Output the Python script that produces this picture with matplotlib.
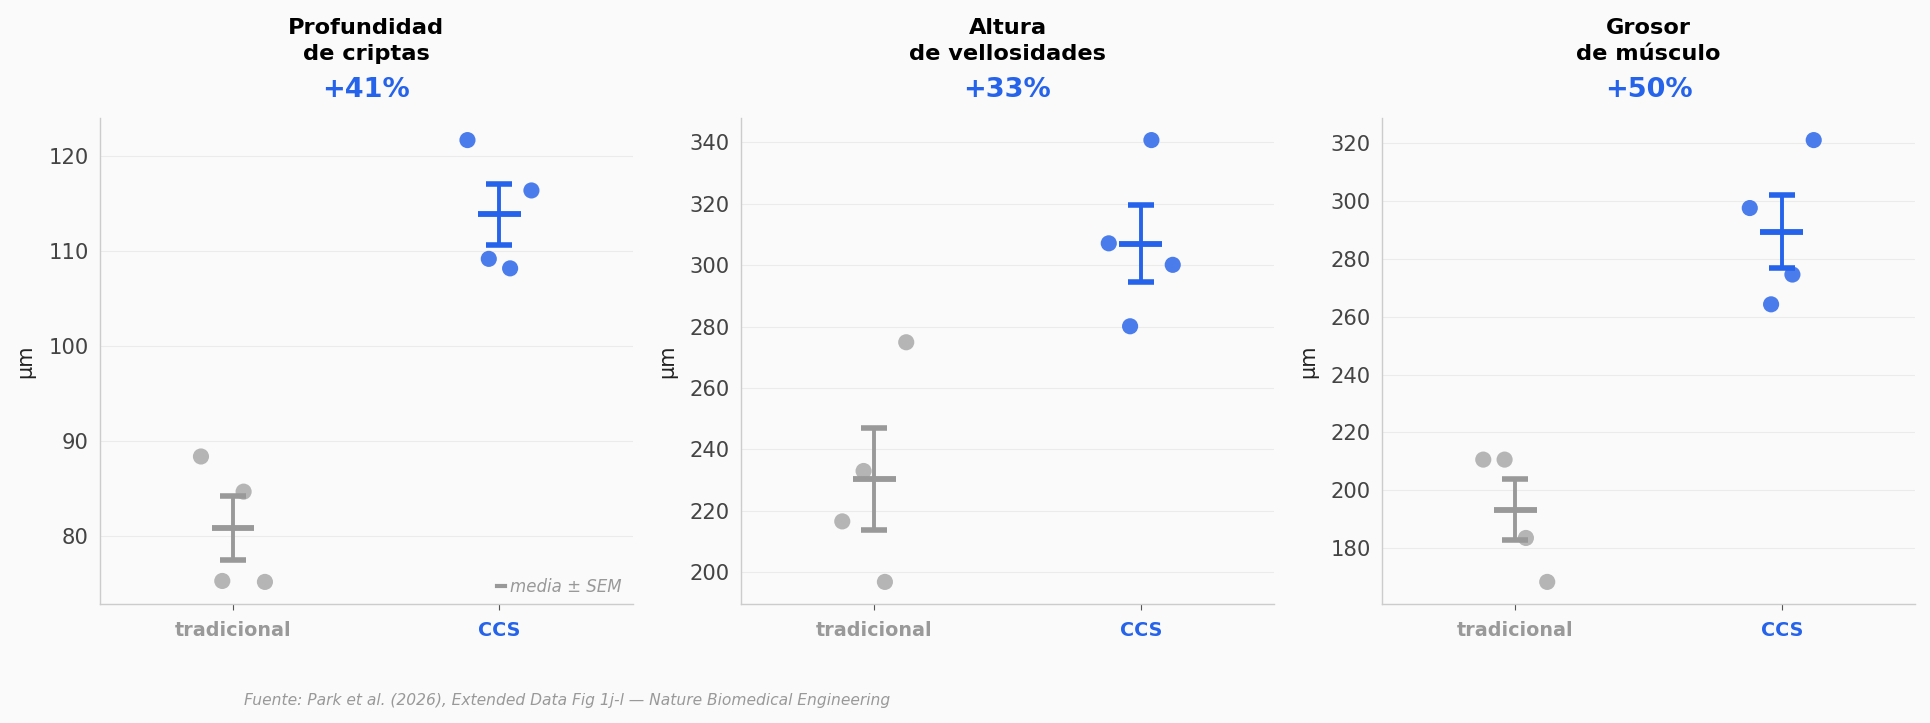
import numpy as np
import matplotlib
matplotlib.use("Agg")
import matplotlib.pyplot as plt
from matplotlib.lines import Line2D

plt.rcParams['font.family'] = ['DejaVu Sans']

groups = ["tradicional", "CCS"]
titles = ["Profundidad\nde criptas", "Altura\nde vellosidades", "Grosor\nde músculo"]
ylabel = "µm"

crypt_trad = [88.4, 75.3, 84.7, 75.2]
crypt_ccs = [121.7, 109.2, 108.2, 116.4]
villi_trad = [216.6, 233.0, 196.9, 274.9]
villi_ccs = [307.1, 280.1, 340.7, 300.1]
muscle_trad = [210.6, 210.6, 183.5, 168.3]
muscle_ccs = [297.6, 264.3, 274.6, 321.1]

yticks_list = [[80, 90, 100, 110, 120],
               [200, 220, 240, 260, 280, 300, 320, 340],
               [180, 200, 220, 240, 260, 280, 300, 320]]

jitter = [-0.12, -0.04, 0.04, 0.12]

panels = [(crypt_trad, crypt_ccs), (villi_trad, villi_ccs), (muscle_trad, muscle_ccs)]

BG = "#fafafa"
GREY_PT = "#b5b5b5"
GREY_BAR = "#999999"
BLUE_PT = "#4a7ceb"
BLUE = "#2563eb"

fig = plt.figure(figsize=(19.3, 7.23), dpi=100, facecolor=BG)
lefts = [99.7 / 1930, 741 / 1930, 1382 / 1930]
bottom = 1 - 604 / 723
height = (604 - 118) / 723
width = 533 / 1930

for i, (trad, ccs) in enumerate(panels):
    ax = fig.add_axes([lefts[i], bottom, width, height], facecolor=BG)
    for gi, (vals, pc, bc) in enumerate([(trad, GREY_PT, GREY_BAR), (ccs, BLUE_PT, BLUE)]):
        v = np.array(vals)
        x = gi + np.array(jitter)
        ax.scatter(x, v, s=135, color=pc, edgecolor='none', zorder=3)
        m = v.mean()
        sem = v.std(ddof=1) / np.sqrt(len(v))
        ax.errorbar([gi], [m], yerr=[sem], fmt='none', ecolor=bc, elinewidth=2.8,
                    capsize=9.5, capthick=4, zorder=4)
        ax.plot([gi - 0.08, gi + 0.08], [m, m], color=bc, lw=4.2, zorder=4,
                solid_capstyle='butt')
    ax.set_xlim(-0.5, 1.5)
    ax.set_xticks([0, 1])
    ax.set_xticklabels(groups, fontsize=13.8, fontweight='bold')
    for lab, c in zip(ax.get_xticklabels(), [GREY_BAR, BLUE]):
        lab.set_color(c)
    ax.set_yticks(yticks_list[i])
    ax.tick_params(axis='y', length=0, labelsize=15.2, labelcolor="#444444", pad=8)
    ax.tick_params(axis='x', length=4, color="#555555", pad=8)
    ax.grid(axis='y', color="#ebebeb", lw=0.8, zorder=0)
    ax.set_axisbelow(True)
    for s in ['top', 'right']:
        ax.spines[s].set_visible(False)
    for s in ['left', 'bottom']:
        ax.spines[s].set_color("#cccccc")
        ax.spines[s].set_linewidth(1.0)
    ax.set_ylabel(ylabel, fontsize=15, color="#222222", labelpad=9)
    pct = np.mean(ccs) / np.mean(trad) * 100 - 100
    ax.text(0.5, 1.058, f"+{pct:.0f}%", transform=ax.transAxes, ha='center', va='center',
            fontsize=19.5, fontweight='bold', color=BLUE)
    ax.text(0.5, 1.159, titles[i], transform=ax.transAxes, ha='center', va='center',
            fontsize=16.2, fontweight='bold', color="black", linespacing=1.38)
    if i == 0:
        h = Line2D([], [], color=GREY_BAR, lw=3)
        leg = ax.legend([h], ["media ± SEM"], loc='lower right', frameon=False,
                        bbox_to_anchor=(1.002, -0.008),
                        handlelength=0.5, handletextpad=0.3, borderaxespad=0.3,
                        prop={'style': 'italic', 'size': 12})
        for t in leg.get_texts():
            t.set_color(GREY_BAR)

fig.text(244 / 1930, 1 - 701 / 723, "Fuente: Park et al. (2026), Extended Data Fig 1j-l — Nature Biomedical Engineering",
         ha='left', va='center', fontsize=11.2, style='italic', color="#999999")

fig.savefig("out.png", dpi=100, facecolor=BG)
